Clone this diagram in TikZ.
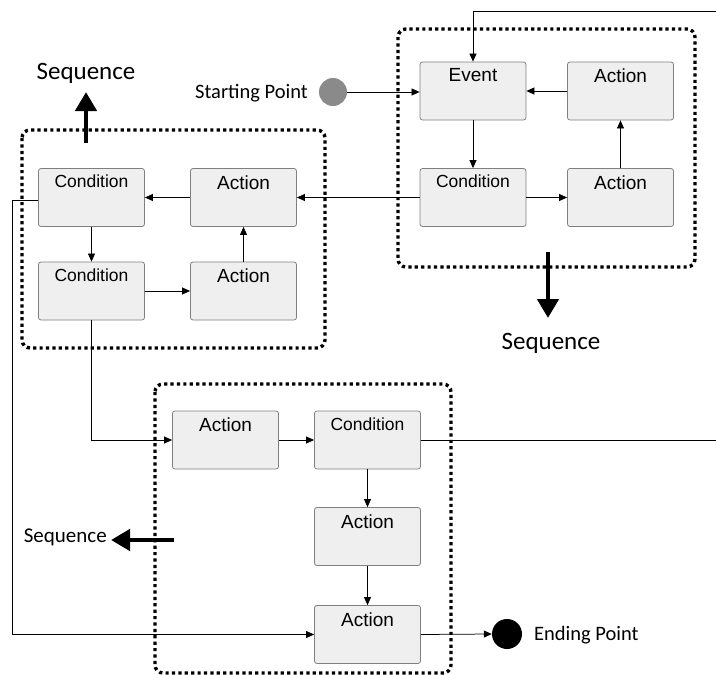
\documentclass[tikz,border=0pt]{standalone}
\usepackage{fontspec}
\setmainfont{Liberation Sans}
\newfontfamily\calib{Carlito}
\usetikzlibrary{arrows.meta}
\definecolor{boxfill}{HTML}{EFEFEF}
\definecolor{boxline}{HTML}{7F7F7F}
\definecolor{startgray}{HTML}{8A8A8A}
\tikzset{
  blk/.style={draw=boxline, fill=boxfill, rounded corners=2.5pt, minimum width=106pt, minimum height=58pt, inner sep=0pt, line width=0.8pt},
  lbl/.style={font=\fontsize{19}{21}\selectfont, anchor=north, inner sep=0pt, yshift=-7pt},
  lblc/.style={font=\fontsize{17.5}{19}\selectfont, anchor=north, inner sep=0pt, yshift=-7pt},
  actbox/.style={blk, label={[lbl]north:Action}},
  condbox/.style={blk, label={[lblc]north:Condition}},
  evbox/.style={blk, label={[lbl]north:Event}},
  conn/.style={line width=0.75pt, -{Triangle[length=8pt,width=7pt]}},
  plain/.style={line width=0.75pt},
  dotbox/.style={line width=3.4pt, dash pattern=on 3.2pt off 3.2pt, rounded corners=8pt},
  bigarrow/.style={line width=4.5pt, -{Triangle[length=19pt,width=21pt]}},
  seqlbl/.style={font=\calib\fontsize{25}{30}\selectfont, inner sep=0pt},
  ptlbl/.style={font=\calib\fontsize{20.5}{24}\selectfont, inner sep=0pt},
}
\begin{document}
\begin{tikzpicture}[x=1pt,y=-1pt]
\useasboundingbox (0,0) rectangle (716,675);
% top-right group
\node[evbox] (ev) at (473,91) {};
\node[actbox] (tra1) at (620.5,91) {};
\node[condbox] (trc) at (473,197.5) {};
\node[actbox] (tra2) at (620.5,197.5) {};
% left group
\node[condbox] (lc1) at (91.5,197.5) {};
\node[actbox] (la1) at (243.5,197.5) {};
\node[condbox] (lc2) at (91.5,291) {};
\node[actbox] (la2) at (243.5,291) {};
% bottom group
\node[actbox] (ba1) at (225.5,440) {};
\node[condbox] (bc) at (367.5,440) {};
\node[actbox] (ba2) at (367.5,536.5) {};
\node[actbox] (ba3) at (367.5,634.5) {};
% start / end
\node[circle, fill=startgray, minimum size=28pt, inner sep=0pt] (sp) at (333,92) {};
\node[ptlbl, anchor=east] (spt) at (308,93) {Starting Point};
\node[circle, fill=black, minimum size=30pt, inner sep=0pt] (ep) at (507,634) {};
\node[ptlbl, anchor=west] (ept) at (534,635) {Ending Point};
% free ends
\coordinate (topin) at (716,11);
\coordinate (rout) at (716,440);
\coordinate (lx) at (12,0);
% connectors top-right
\draw[conn] (topin) -| (ev.north);
\draw[conn] (sp.east) -- (sp.east -| ev.west);
\draw[conn] (ev.south) -- (trc.north);
\draw[conn] (trc.east) -- (tra2.west);
\draw[conn] (tra2.north) -- (tra1.south);
\draw[conn] (tra1.west) -- (ev.east);
\draw[conn] (trc.west) -- (la1.east);
% left group
\draw[conn] (la1.west) -- (lc1.east);
\draw[conn] (lc1.south) -- (lc2.north);
\draw[conn] (lc2.east) -- (la2.west);
\draw[conn] (la2.north) -- (la1.south);
\draw[conn] ([yshift=-2.5pt]lc1.west) -- ([yshift=-2.5pt]lc1.west -| lx) |- (ba3.west);
\draw[conn] (lc2.south) |- (ba1.west);
% bottom group
\draw[conn] (ba1.east) -- (bc.west);
\draw[plain] (bc.east) -- (rout);
\draw[conn] (bc.south) -- (ba2.north);
\draw[conn] (ba2.south) -- (ba3.north);
\draw[conn] (ba3.east) -- (ep.west);
% dotted groups
\draw[dotbox] (398,29) rectangle (695,267);
\draw[dotbox] (22,130) rectangle (325,348);
\draw[dotbox] (155,384) rectangle (451,673);
% sequence arrows
\coordinate (s1a) at (86,143);
\coordinate (s1b) at (86,92);
\coordinate (s2a) at (548,252);
\coordinate (s2b) at (548,318);
\coordinate (s3a) at (174,540);
\coordinate (s3b) at (111,540);
\draw[bigarrow] (s1a) -- (s1b);
\draw[bigarrow] (s2a) -- (s2b);
\draw[bigarrow] (s3a) -- (s3b);
\node[seqlbl] (seq1) at (86,73) {Sequence};
\node[seqlbl] (seq2) at (551,343) {Sequence};
\node[seqlbl, anchor=east, font=\calib\fontsize{21}{25}\selectfont] (seq3) at (107,537) {Sequence};
\end{tikzpicture}
\end{document}
